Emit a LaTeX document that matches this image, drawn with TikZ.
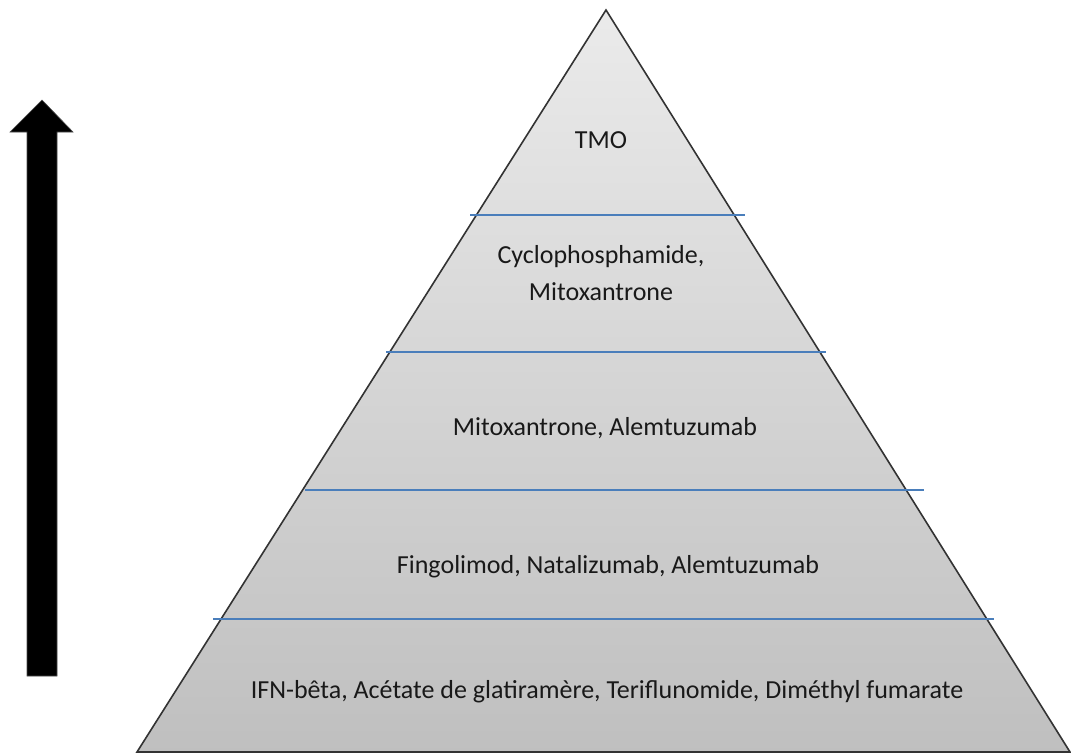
\documentclass[tikz,border=0pt]{standalone}
\usepackage{fontspec}
\setmainfont{Carlito}
\begin{document}
\begin{tikzpicture}[x=1pt,y=-1pt,
  lbl/.style={font=\fontsize{26}{37}\selectfont, text=black!90, align=center, inner sep=0pt},
  level/.style={draw=blueline, line width=1.7pt},
  ]
\definecolor{blueline}{HTML}{4A7EBB}
\useasboundingbox (0,0) rectangle (1071,753);
% pyramid
\coordinate (apex) at (606,10);
\coordinate (bl) at (137,752);
\coordinate (br) at (1070,752);
\shade[top color=black!8, bottom color=black!25] (apex) -- (br) -- (bl) -- cycle;
\draw[black!80, line width=1.6pt, line join=miter] (apex) -- (br) -- (bl) -- cycle;
% level lines
\coordinate (l1a) at (470,215); \coordinate (l1b) at (745,215);
\coordinate (l2a) at (386,352); \coordinate (l2b) at (826,352);
\coordinate (l3a) at (305,490); \coordinate (l3b) at (924,490);
\coordinate (l4a) at (213,619); \coordinate (l4b) at (994,619);
\draw[level] (l1a) -- (l1b);
\draw[level] (l2a) -- (l2b);
\draw[level] (l3a) -- (l3b);
\draw[level] (l4a) -- (l4b);
% labels
\node[lbl] (t1) at (601,140) {TMO};
\node[lbl] (t2) at (601,273) {Cyclophosphamide,\\Mitoxantrone};
\node[lbl] (t3) at (605,428) {Mitoxantrone, Alemtuzumab};
\node[lbl] (t4) at (608,567) {Fingolimod, Natalizumab, Alemtuzumab};
\node[lbl] (t5) at (607,692) {IFN-bêta, Acétate de glatiramère, Teriflunomide, Diméthyl fumarate};
% arrow
\fill[black, draw=black!70, line width=0.6pt] (27,676) -- (57,676) -- (57,132) -- (73,132) -- (42,100) -- (10,132) -- (27,132) -- cycle;
\end{tikzpicture}
\end{document}
